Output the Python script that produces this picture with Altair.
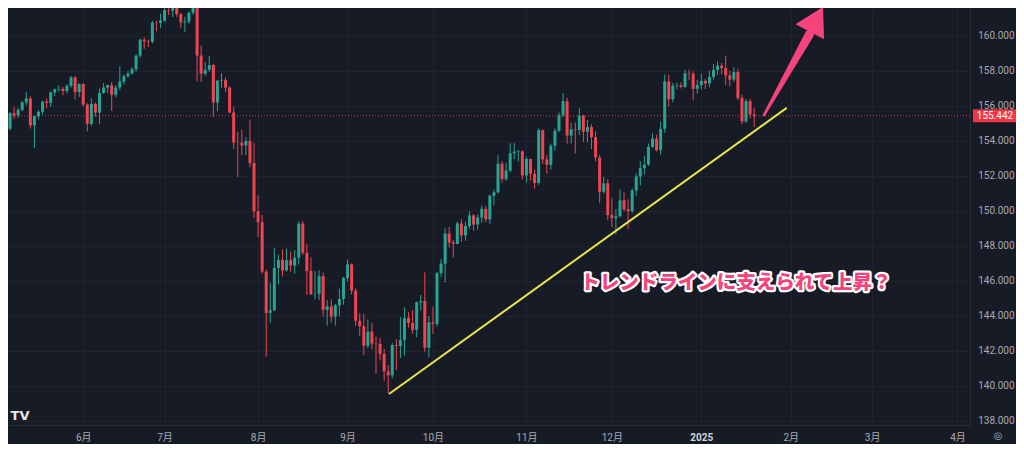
import json
import altair as alt
import pandas as pd

# ---------------- data (USD/JPY daily candles) ----------------
opens = [
    # May 2024
    154.70, 155.58, 155.46, 155.78, 156.21, 156.43, 154.89, 155.41, 155.67, 156.25, 156.18, 156.78, 156.95, 156.98, 156.86, 157.15, 157.63, 156.80,
    # June
    157.26, 156.08, 154.98, 156.12, 155.62, 156.74, 157.05, 157.19, 156.64, 157.06, 157.39, 157.71, 157.86, 158.10, 158.88, 159.79, 159.70, 159.67, 160.76, 160.75,
    # July
    160.88, 161.48, 161.45, 161.72, 161.25, 160.78, 160.82, 161.32, 161.65, 158.88, 157.85, 158.07, 158.34, 156.20, 157.45, 157.49, 157.05, 155.63, 153.91, 153.90, 153.74, 154.00, 152.74,
    # August
    149.98, 149.36, 146.53, 144.18, 144.32, 146.74, 147.21, 146.60, 147.19, 146.89, 147.33, 149.28, 147.61, 146.57, 145.24, 145.26, 146.28, 144.35, 144.55, 143.96, 144.61, 144.97,
    # September
    146.17, 146.95, 145.45, 143.73, 143.42, 142.30, 143.11, 142.42, 142.40, 141.83, 140.83, 140.61, 142.34, 142.29, 142.62, 143.88, 143.60, 143.21, 144.79, 144.86, 142.19,
    # October
    143.63, 143.55, 146.45, 146.99, 148.71, 148.20, 148.12, 149.29, 148.60, 149.14, 149.75, 149.23, 149.63, 150.12, 149.52, 150.87, 151.07, 152.70, 151.83, 152.31, 153.30, 153.39, 153.41,
    # November
    152.03, 152.97, 152.13, 151.60, 154.62, 152.95, 152.64, 153.73, 154.59, 155.49, 156.28, 154.31, 154.67, 154.63, 155.45, 154.53, 154.79, 154.22, 153.05, 151.10, 151.58,
    # December
    149.77, 149.59, 149.70, 150.61, 150.10, 149.99, 151.17, 151.97, 152.45, 152.65, 153.66, 154.13, 153.48, 154.70, 157.40, 156.39, 157.16, 157.18, 157.09, 157.87, 157.85, 156.98,
    # January 2025
    157.20, 157.44, 157.29, 157.66, 158.06, 158.31, 158.17, 157.75, 157.51, 157.94, 156.46, 155.12, 156.28, 155.52,
]
highs = [
    155.66, 155.95, 155.89, 156.28, 156.79, 156.55, 155.45, 155.78, 156.30, 156.42, 156.81, 157.00, 157.18, 157.08, 157.25, 157.72, 157.71, 157.30,
    157.30, 156.15, 156.44, 156.20, 157.00, 157.30, 157.22, 157.37, 157.19, 158.26, 157.80, 158.00, 158.22, 158.96, 159.84, 159.91, 159.79, 160.87, 160.87, 161.28,
    161.72, 161.74, 161.95, 161.80, 161.30, 161.10, 161.40, 161.80, 161.76, 159.45, 158.52, 158.86, 158.42, 157.48, 157.86, 157.62, 157.13, 155.97, 154.52, 154.65, 154.21, 155.22, 153.88,
    150.89, 149.77, 146.66, 145.92, 147.89, 147.51, 147.80, 147.85, 147.68, 147.77, 149.39, 149.43, 148.14, 147.35, 146.56, 146.62, 146.47, 144.90, 144.95, 144.69, 145.56, 146.24,
    147.21, 147.00, 145.57, 144.15, 144.12, 143.80, 143.62, 142.83, 142.75, 142.13, 141.20, 142.47, 142.67, 143.94, 144.49, 144.21, 144.34, 144.82, 145.20, 146.49, 144.00,
    144.53, 146.52, 147.26, 149.02, 149.08, 148.34, 149.40, 149.54, 149.39, 149.98, 149.82, 149.80, 150.32, 150.28, 150.94, 151.23, 153.19, 152.85, 152.76, 153.88, 153.88, 153.49, 153.46,
    153.10, 152.98, 152.37, 154.71, 154.66, 153.21, 153.85, 154.72, 155.63, 156.75, 156.47, 155.05, 155.07, 155.89, 155.50, 155.20, 154.95, 154.55, 153.21, 151.95, 151.82,
    150.75, 150.12, 151.23, 151.06, 150.67, 151.28, 152.14, 152.84, 153.15, 153.86, 154.44, 154.36, 155.09, 157.80, 157.80, 157.34, 157.33, 157.36, 158.09, 158.08, 157.98, 157.49,
    157.84, 157.55, 158.02, 158.42, 158.55, 158.46, 158.87, 158.01, 158.20, 158.11, 156.65, 156.40, 156.42, 155.90,
]
lows = [
    154.60, 155.27, 155.30, 155.70, 156.05, 154.71, 153.60, 155.24, 155.50, 155.86, 155.95, 156.58, 156.82, 156.62, 156.70, 157.05, 156.37, 156.50,
    155.95, 154.55, 154.88, 155.40, 154.99, 156.70, 156.75, 155.72, 156.50, 156.90, 157.23, 157.60, 157.80, 157.96, 158.76, 159.27, 159.37, 159.58, 160.27, 160.44,
    160.82, 161.20, 161.08, 161.08, 160.48, 160.24, 160.70, 161.20, 157.42, 157.37, 157.72, 157.95, 155.37, 155.70, 157.03, 156.78, 155.58, 153.54, 151.94, 153.18, 153.20, 152.50, 149.61,
    148.51, 146.41, 141.68, 143.62, 144.27, 145.80, 146.25, 146.54, 146.53, 146.41, 146.95, 147.49, 145.20, 145.20, 144.95, 144.91, 143.98, 143.45, 143.63, 143.45, 143.98, 144.65,
    145.95, 145.23, 143.43, 142.87, 141.75, 142.16, 142.08, 140.71, 141.46, 140.29, 139.58, 140.44, 140.91, 141.59, 141.74, 143.33, 142.99, 142.79, 144.33, 141.96, 141.64,
    142.97, 143.40, 146.22, 145.92, 147.90, 147.34, 148.10, 148.25, 148.30, 148.99, 148.86, 148.93, 149.33, 149.36, 149.27, 150.32, 151.01, 151.63, 151.72, 152.21, 152.96, 152.83, 151.79,
    151.62, 151.73, 151.28, 151.50, 152.67, 152.15, 152.37, 153.44, 154.51, 155.37, 153.85, 153.86, 153.29, 154.34, 153.94, 153.93, 153.54, 152.84, 150.44, 151.00, 149.47,
    149.09, 148.65, 149.64, 149.98, 148.98, 149.87, 150.88, 151.46, 152.08, 152.57, 153.61, 153.40, 153.21, 154.48, 155.97, 156.22, 156.96, 157.00, 157.04, 157.47, 156.32, 156.70,
    156.94, 156.97, 157.07, 157.50, 157.77, 157.83, 157.21, 157.12, 157.38, 156.34, 154.97, 155.01, 155.30, 154.80,
]
closes = [
    155.58, 155.46, 155.78, 156.21, 156.43, 154.89, 155.41, 155.67, 156.25, 156.18, 156.78, 156.95, 156.98, 156.86, 157.15, 157.63, 156.80, 157.26,
    156.08, 154.98, 156.12, 155.62, 156.74, 157.05, 157.19, 156.64, 157.06, 157.39, 157.71, 157.86, 158.10, 158.88, 159.79, 159.70, 159.67, 160.76, 160.75, 160.88,
    161.48, 161.45, 161.72, 161.25, 160.78, 160.82, 161.32, 161.65, 158.88, 157.85, 158.07, 158.34, 156.20, 157.45, 157.49, 157.05, 155.63, 153.91, 153.90, 153.74, 154.00, 152.74, 149.98,
    149.36, 146.53, 144.18, 144.32, 146.74, 147.21, 146.60, 147.19, 146.89, 147.33, 149.28, 147.61, 146.57, 145.24, 145.26, 146.28, 144.35, 144.55, 143.96, 144.61, 144.97, 146.17,
    146.95, 145.45, 143.73, 143.42, 142.30, 143.11, 142.42, 142.40, 141.83, 140.83, 140.61, 142.34, 142.29, 142.62, 143.88, 143.60, 143.21, 144.79, 144.86, 142.19, 143.63,
    143.55, 146.45, 146.99, 148.71, 148.20, 148.12, 149.29, 148.60, 149.14, 149.75, 149.23, 149.63, 150.12, 149.52, 150.87, 151.07, 152.70, 151.83, 152.31, 153.30, 153.39, 153.41, 152.03,
    152.97, 152.13, 151.60, 154.62, 152.95, 152.64, 153.73, 154.59, 155.49, 156.28, 154.31, 154.67, 154.63, 155.45, 154.53, 154.79, 154.22, 153.05, 151.10, 151.58, 149.77,
    149.59, 149.70, 150.61, 150.10, 149.99, 151.17, 151.97, 152.45, 152.65, 153.66, 154.13, 153.48, 154.70, 157.40, 156.39, 157.16, 157.18, 157.09, 157.87, 157.85, 156.98, 157.20,
    157.44, 157.29, 157.66, 158.06, 158.31, 158.17, 157.75, 157.51, 157.94, 156.46, 155.12, 156.28, 155.52, 155.44,
]

month_labels = ["6月", "7月", "8月", "9月", "10月", "11月", "12月", "2025", "2月", "3月", "4月"]
month_keys = ["2024-06", "2024-07", "2024-08", "2024-09", "2024-10", "2024-11", "2024-12",
              "2025-01", "2025-02", "2025-03", "2025-04"]
price_ticks = [138, 140, 142, 144, 146, 148, 150, 152, 154, 156, 158, 160]
last_price = 155.442

# trend line end points (trading-day index, price)
trend_idx = [93.2, 191.0]
trend_price = [139.54, 155.89]

# pink arrow: shaft from tail to neck, triangular head centred between neck and tip
shaft_idx = [185.45, 196.6]
shaft_price = [155.49, 160.10]
shaft_width = [2.5, 9]
head_idx = [198.3]
head_price = [160.95]

note_text = "トレンドラインに支えられて上昇？"
note_idx = [178.5]
note_price = [145.89]

# ---------------- styles ----------------
BG = "#171b26"
GRID = "#1f2330"
UP = "#27a592"
DOWN = "#ef4552"
YELLOW = "#e8e54c"
PINK = "#f5437c"
LABEL = "#a7aab3"

# trading days (weekdays, New Year's Day closed)
dates = pd.bdate_range("2024-05-08", "2025-04-30")
dates = dates[dates != pd.Timestamp("2025-01-01")]
months = list(dates.strftime("%Y-%m"))
month_idx = [months.index(k) for k in month_keys]

n = len(closes)
df = pd.DataFrame({
    "idx": list(range(n)),
    "date": list(dates[:n].strftime("%Y-%m-%d")),
    "open": opens, "high": highs, "low": lows, "close": closes,
})
df["dir"] = ["up" if c >= o else "down" for o, c in zip(opens, closes)]

XS = alt.Scale(domain=[0.73, 234.85], nice=False, zero=False)
YS = alt.Scale(domain=[137.771, 161.6], nice=False, zero=False)

label_expr = "{}[indexof({}, datum.value)]".format(
    json.dumps(month_labels, ensure_ascii=False), json.dumps(month_idx))
year_pos = month_idx[month_labels.index("2025")]

x_axis = alt.Axis(
    values=month_idx, labelExpr=label_expr, title=None, grid=True, gridColor=GRID,
    ticks=False, domain=True, domainColor="#2a2e39", labelFont="Roboto, Noto Sans CJK JP",
    labelFontSize=10, labelPadding=7, labelFlush=False, labelOverlap=False,
    labelColor={"expr": f"datum.value == {year_pos} ? '#d1d4dc' : '{LABEL}'"},
    labelFontWeight={"expr": f"datum.value == {year_pos} ? 'bold' : 'normal'"},
)
y_axis = alt.Axis(
    orient="right", values=price_ticks, format=".3f", title=None, grid=True, gridColor=GRID,
    ticks=False, domain=True, domainColor="#2a2e39", labelFont="Roboto", labelFontSize=10,
    labelColor=LABEL, labelAlign="right", labelPadding=44, labelFlush=False, labelOverlap=False,
)


def X(field):
    return alt.X(field, scale=XS, axis=x_axis)


def Y(field):
    return alt.Y(field, scale=YS, axis=y_axis)


color = alt.Color("dir:N", scale=alt.Scale(domain=["up", "down"], range=[UP, DOWN]), legend=None)

wicks = alt.Chart(df).mark_rule(strokeWidth=1, clip=True).encode(
    x=X("idx:Q"), y=Y("low:Q"), y2="high:Q", color=color,
)
bodies = alt.Chart(df).mark_bar(width=3, clip=True).encode(
    x=X("idx:Q"), y=Y("open:Q"), y2="close:Q", color=color,
)

last_df = pd.DataFrame({"p": [last_price], "label": [f"{last_price:.3f}"]})
price_line = alt.Chart(last_df).mark_rule(strokeDash=[1, 2], color=DOWN, strokeWidth=1, opacity=0.85).encode(
    y=Y("p:Q")
)
tag = alt.Chart(last_df).mark_tick(orient="horizontal", thickness=13, color="#f23645", opacity=1, clip=False).encode(
    x=alt.value(987), y=Y("p:Q"), size=alt.value(44)
)
tag_text = alt.Chart(last_df).mark_text(color="white", fontSize=10, font="Roboto", clip=False).encode(
    x=alt.value(987), y=Y("p:Q"), text="label:N"
)

trend_df = pd.DataFrame({"x": trend_idx, "y": trend_price})
trend = alt.Chart(trend_df).mark_line(color=YELLOW, strokeWidth=2, clip=True).encode(
    x=X("x:Q"), y=Y("y:Q")
)

shaft_df = pd.DataFrame({"x": shaft_idx, "y": shaft_price, "w": shaft_width})
shaft = alt.Chart(shaft_df).mark_trail(color=PINK, clip=False).encode(
    x=X("x:Q"), y=Y("y:Q"), size=alt.Size("w:Q", scale=None, legend=None),
)
head_df = pd.DataFrame({"x": head_idx, "y": head_price})
head = alt.Chart(head_df).mark_point(shape="triangle-up", filled=True, opacity=1, color=PINK, clip=False).encode(
    x=X("x:Q"), y=Y("y:Q"), size=alt.value(1050), angle=alt.value(28)
)

note_df = pd.DataFrame({"x": note_idx, "y": note_price, "t": [note_text]})
note_font = dict(font="Noto Sans CJK JP", fontSize=19.5, fontWeight=900, align="center", baseline="middle")
note_outline = alt.Chart(note_df).mark_text(color="white", stroke="white", strokeWidth=4.5, strokeJoin="round", **note_font).encode(
    x=X("x:Q"), y=Y("y:Q"), text="t:N"
)
note = alt.Chart(note_df).mark_text(color=PINK, **note_font).encode(
    x=X("x:Q"), y=Y("y:Q"), text="t:N"
)

logo = alt.Chart(pd.DataFrame({"t": ["TV"]})).mark_text(
    color="#e8e8ea", fontSize=13, fontWeight="bold", font="DejaVu Sans", clip=False
).encode(x=alt.value(12), y=alt.value(408), text="t:N")
gear = alt.Chart(pd.DataFrame({"t": ["◎"]})).mark_text(
    color=LABEL, fontSize=10, font="DejaVu Sans", clip=False
).encode(x=alt.value(990), y=alt.value(428), text="t:N")

chart = alt.layer(
    wicks, bodies, price_line, trend, shaft, head, note_outline, note, tag, tag_text, logo, gear
).properties(
    width=962, height=417,
    autosize=alt.AutoSizeParams(type="none"),
    padding={"left": 0, "top": 0, "right": 46, "bottom": 19},
    background=BG,
).configure_view(strokeWidth=0)

chart.save("out.html", embed_options={"renderer": "svg", "actions": False})
